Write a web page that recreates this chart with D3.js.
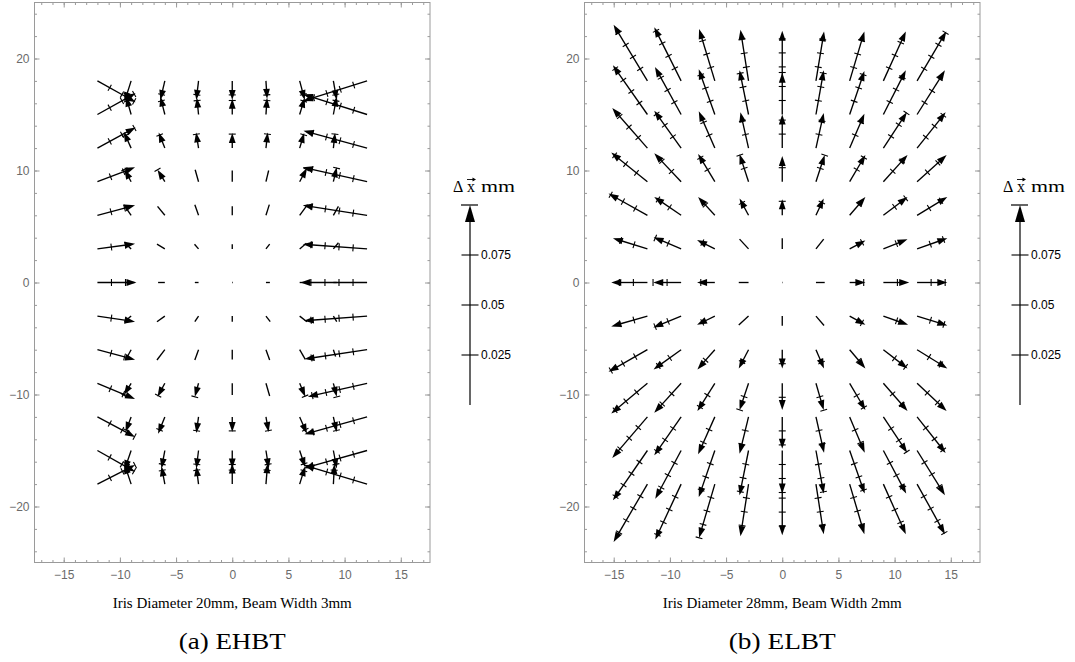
<!DOCTYPE html>
<html>
<head>
<meta charset="utf-8">
<script src="https://cdn.jsdelivr.net/npm/d3@7"></script>
<style>
  body { margin: 0; background: #fff; }
  svg { display: block; }
</style>
</head>
<body>
<svg id="chart" width="1075" height="662"></svg>
<script>
// Beam grid positions (mm)
const gridX = [-12, -9, -6, -3, 0, 3, 6, 9, 12];
const gridY = [18, 15, 12, 9, 6, 3, 0, -3, -6, -9, -12, -15, -18];

// EHBT displacement components, rows follow gridY, columns follow gridX
const ehbtDx = [
  [3.4, -0.6, -0.4, -0.2, 0, 0.1, 0.45, 0.3, -5.7],
  [3.4, -0.45, -0.4, -0.15, 0, 0.1, 0.45, 0.3, -5.7],
  [3.4, -0.65, -0.55, -0.22, 0, 0.15, 0.4, 0.15, -5.66],
  [3.35, -0.6, -0.65, -0.3, 0, 0.24, 0.65, 0.3, -5.72],
  [3.35, -0.65, -0.65, -0.33, 0, 0.3, 0.7, 0.45, -5.72],
  [3.35, -0.6, -0.7, -0.36, 0, 0.33, 0.6, 0.45, -5.72],
  [3.47, 0.3, -0.6, -0.33, 0.06, 0.35, 0.6, 0.3, -5.93],
  [3.35, -0.6, -0.7, -0.33, 0, 0.38, 0.65, 0.3, -5.63],
  [3.35, -0.5, -0.7, -0.33, 0, 0.33, 0.5, 0.2, -5.57],
  [3.35, -0.65, -0.65, -0.33, 0, 0.33, 0.5, 0.3, -5.27],
  [3.35, -0.5, -0.6, -0.2, 0, 0.24, 0.65, 0.3, -5.57],
  [3.35, -0.6, -0.3, -0.2, 0, 0.25, 0.5, 0.3, -5.63],
  [3.35, -0.6, -0.3, -0.2, 0, 0.15, 0.5, 0.1, -5.63]
];
const ehbtDy = [
  [-1.9, -1.9, -1.7, -1.7, -1.7, -1.6, -1.7, -1.7, -1.8],
  [1.9, 1.6, 1.6, 1.5, 1.4, 1.5, 1.5, 1.6, 1.8],
  [1.85, 1.45, 1.4, 1.4, 1.34, 1.4, 1.35, 1.35, 1.55],
  [1.28, 1.1, 1.07, 1.07, 1.0, 1.0, 1.22, 1.28, 1.28],
  [0.89, 0.95, 0.8, 0.95, 0.8, 0.95, 0.95, 0.8, 0.89],
  [0.45, 0.6, 0.42, 0.42, 0.42, 0.42, 0.5, 0.55, 0.42],
  [0, 0, 0, 0, 0, 0, 0, 0, 0],
  [-0.5, -0.5, -0.5, -0.5, -0.5, -0.5, -0.5, -0.5, -0.42],
  [-0.9, -0.92, -0.92, -0.92, -0.87, -0.92, -0.87, -0.6, -0.83],
  [-1.4, -1.04, -1.2, -1.2, -1.04, -1.13, -1.2, -1.2, -1.19],
  [-1.79, -1.34, -1.5, -1.43, -1.34, -1.34, -1.5, -1.34, -1.55],
  [-1.9, -1.75, -1.6, -1.6, -1.6, -1.6, -1.5, -1.6, -1.58],
  [1.7, 1.8, 1.6, 1.6, 1.85, 1.85, 1.6, 1.8, 1.7]
];

// ELBT displacement components
const elbtDx = [
  [-3.01, -2.39, -1.40, -0.72, 0, 0.72, 1.31, 2.0, 2.6],
  [-3.07, -2.33, -1.43, -0.8, 0, 0.69, 1.31, 2.0, 2.48],
  [-3.13, -2.39, -1.43, -0.72, 0, 0.69, 1.31, 2.09, 2.54],
  [-3.22, -2.39, -1.49, -0.8, 0, 0.78, 1.4, 2.15, 2.63],
  [-3.46, -2.39, -1.49, -0.8, 0, 0.69, 1.4, 2.15, 2.69],
  [-3.07, -2.45, -1.58, -0.8, 0, 0.69, 1.4, 2.15, 2.69],
  [-3.22, -2.48, -1.58, -0.87, 0.04, 0.78, 1.4, 2.3, 2.69],
  [-3.22, -2.48, -1.58, -0.87, 0, 0.72, 1.4, 2.2, 2.69],
  [-3.46, -2.45, -1.55, -0.87, 0, 0.72, 1.4, 2.15, 2.69],
  [-3.22, -2.39, -1.55, -0.8, 0, 0.69, 1.4, 2.15, 2.63],
  [-3.13, -2.39, -1.49, -0.8, 0, 0.72, 1.34, 2.12, 2.54],
  [-3.07, -2.3, -1.43, -0.8, 0, 0.69, 1.34, 2.03, 2.48],
  [-3.01, -2.3, -1.4, -0.72, 0, 0.69, 1.31, 2.0, 2.48]
];
const elbtDy = [
  [5.01, 4.78, 4.63, 4.57, 4.48, 4.42, 4.42, 4.42, 4.42],
  [4.39, 4.24, 4.03, 3.94, 3.73, 3.94, 3.88, 3.94, 3.94],
  [3.58, 3.34, 3.28, 3.19, 2.99, 3.13, 3.07, 3.19, 3.19],
  [2.6, 2.54, 2.48, 2.45, 2.3, 2.39, 2.39, 2.39, 2.39],
  [1.94, 1.64, 1.64, 1.49, 1.43, 1.49, 1.64, 1.64, 1.64],
  [0.96, 1.04, 0.8, 0.87, 0.96, 0.87, 0.75, 0.87, 0.96],
  [0, 0, 0, 0, 0, 0, 0, 0, 0],
  [-0.92, -1.01, -0.78, -0.8, -0.87, -0.84, -0.78, -0.78, -0.84],
  [-1.97, -1.76, -1.76, -1.67, -1.67, -1.67, -1.67, -1.67, -1.67],
  [-2.69, -2.63, -2.48, -2.39, -2.39, -2.39, -2.39, -2.48, -2.48],
  [-3.67, -3.43, -3.34, -3.28, -2.84, -3.19, -3.19, -3.19, -3.22],
  [-4.45, -4.3, -4.15, -4.0, -3.85, -3.85, -3.85, -3.85, -4.0],
  [-5.16, -4.95, -4.78, -4.65, -4.56, -4.47, -4.47, -4.47, -4.47]
];

// Axis ticks
const xMajorTicks = [-15, -10, -5, 0, 5, 10, 15];
const xMinorTicks = d3.range(-17, 18, 1);
const yMajorTicks = [-20, -10, 0, 10, 20];
const yMinorTicks = d3.range(-24, 25, 2);

// Displacement scale legend (mm)
const legendTicks = [0.025, 0.05, 0.075];
const legendMax = 0.1;

const panels = [
  { caption: "Iris Diameter 20mm, Beam Width 3mm", tag: "(a) EHBT", dx: ehbtDx, dy: ehbtDy, left: 34.5, legendX: 470 },
  { caption: "Iris Diameter 28mm, Beam Width 2mm", tag: "(b) ELBT", dx: elbtDx, dy: elbtDy, left: 584.5, legendX: 1020 }
];

const svg = d3.select("#chart");
const plotW = 395.5, plotTop = 2.5, plotBottom = 562.5;
const tickStep = 1.25;     // spacing of scale marks along an arrow (plot units)
const headMin = 1.2;       // arrows shorter than this are drawn without a head
const headLen = 10, headHalf = 3.4, markHalf = 3.5;
const frameColor = "#9a9a9a", labelColor = "#6a6a6a";
const serif = "'Liberation Serif', 'Times New Roman', serif";
const sans = "'Liberation Sans', Arial, sans-serif";

panels.forEach(p => {
  const x = d3.scaleLinear().domain([-17.6, 17.6]).range([p.left, p.left + plotW]);
  const y = d3.scaleLinear().domain([-25, 25]).range([plotBottom, plotTop]);
  const g = svg.append("g");

  // frame axes: minor + major ticks on all four sides, pointing inward
  const addAxis = (axis, transform, labelled) => {
    const a = g.append("g").attr("transform", transform).call(axis);
    a.select(".domain").remove();
    a.selectAll(".tick line").attr("stroke", frameColor);
    a.selectAll("text").attr("fill", labelColor)
      .style("font-family", sans).style("font-size", "12px");
    if (!labelled) a.selectAll("text").remove();
  };
  addAxis(d3.axisBottom(x).tickValues(xMinorTicks).tickSize(-2.5).tickFormat(""), `translate(0,${plotBottom})`, false);
  addAxis(d3.axisBottom(x).tickValues(xMajorTicks).tickSize(-5).tickPadding(8), `translate(0,${plotBottom})`, true);
  addAxis(d3.axisTop(x).tickValues(xMinorTicks).tickSize(-2.5).tickFormat(""), `translate(0,${plotTop})`, false);
  addAxis(d3.axisTop(x).tickValues(xMajorTicks).tickSize(-5).tickFormat(""), `translate(0,${plotTop})`, false);
  addAxis(d3.axisLeft(y).tickValues(yMinorTicks).tickSize(-2.5).tickFormat(""), `translate(${p.left},0)`, false);
  addAxis(d3.axisLeft(y).tickValues(yMajorTicks).tickSize(-5).tickPadding(5), `translate(${p.left},0)`, true);
  addAxis(d3.axisRight(y).tickValues(yMinorTicks).tickSize(-2.5).tickFormat(""), `translate(${p.left + plotW},0)`, false);
  addAxis(d3.axisRight(y).tickValues(yMajorTicks).tickSize(-5).tickFormat(""), `translate(${p.left + plotW},0)`, false);

  g.append("rect")
    .attr("x", p.left).attr("y", plotTop).attr("width", plotW).attr("height", plotBottom - plotTop)
    .attr("fill", "none").attr("stroke", frameColor).attr("stroke-width", 1);

  // vector field
  const field = g.append("g").attr("stroke", "#000").attr("fill", "#000");
  gridY.forEach((gy, i) => gridX.forEach((gx, j) => {
    const dx = p.dx[i][j], dy = p.dy[i][j];
    const len = Math.hypot(dx, dy);
    if (len === 0) return;
    const x0 = x(gx), y0 = y(gy), x1 = x(gx + dx), y1 = y(gy + dy);
    const pl = Math.hypot(x1 - x0, y1 - y0);
    const ux = (x1 - x0) / pl, uy = (y1 - y0) / pl;
    const nx = -uy, ny = ux;
    const hasHead = len >= headMin;
    const shaft = hasHead ? pl - headLen * 0.7 : pl;
    field.append("line")
      .attr("x1", x0).attr("y1", y0)
      .attr("x2", x0 + ux * shaft).attr("y2", y0 + uy * shaft)
      .attr("stroke-width", 1.35);
    for (let k = 1; k * tickStep <= len + 0.05; k++) {
      const t = k * tickStep / len;
      const px = x0 + (x1 - x0) * t, py = y0 + (y1 - y0) * t;
      field.append("line")
        .attr("x1", px - nx * markHalf).attr("y1", py - ny * markHalf)
        .attr("x2", px + nx * markHalf).attr("y2", py + ny * markHalf)
        .attr("stroke-width", 1.1);
    }
    if (hasHead) {
      const bx = x1 - ux * headLen, by = y1 - uy * headLen;
      field.append("path")
        .attr("d", `M${x1},${y1}L${bx + nx * headHalf},${by + ny * headHalf}L${bx - nx * headHalf},${by - ny * headHalf}Z`)
        .attr("stroke", "none");
    }
  }));

  // captions
  const cx = x(0);
  svg.append("text").attr("x", cx).attr("y", 608)
    .attr("text-anchor", "middle")
    .style("font-family", serif).style("font-size", "15px")
    .text(p.caption);
  svg.append("text").attr("x", cx).attr("y", 649)
    .attr("text-anchor", "middle")
    .attr("textLength", 107).attr("lengthAdjust", "spacingAndGlyphs")
    .style("font-family", serif).style("font-size", "23px")
    .text(p.tag);

  // legend: scale arrow
  const ly = d3.scaleLinear().domain([0, legendMax]).range([405, 205]);
  const lg = svg.append("g").attr("stroke", "#000").attr("fill", "#000");
  const lx = p.legendX;
  lg.append("line").attr("x1", lx).attr("x2", lx).attr("y1", ly(0)).attr("y2", ly(legendMax) + 12).attr("stroke-width", 1.2);
  lg.append("path").attr("stroke", "none")
    .attr("d", `M${lx},${ly(legendMax)}L${lx - 5},${ly(legendMax) + 17}L${lx + 5},${ly(legendMax) + 17}Z`);
  lg.append("line").attr("x1", lx - 9).attr("x2", lx + 8).attr("y1", ly(legendMax)).attr("y2", ly(legendMax)).attr("stroke-width", 1.2);
  legendTicks.forEach(v => {
    lg.append("line").attr("x1", lx - 8.5).attr("x2", lx + 8.5).attr("y1", ly(v)).attr("y2", ly(v)).attr("stroke-width", 1.1);
    lg.append("text").attr("x", lx + 11).attr("y", ly(v)).attr("dy", "0.35em")
      .attr("stroke", "none")
      .style("font-family", sans).style("font-size", "12px")
      .text(v);
  });

  // legend title: Δx (vector) in mm, with the vector arrow drawn over the x
  const title = svg.append("text").attr("y", 192)
    .style("font-family", serif).style("font-size", "16px");
  title.append("tspan").attr("x", lx - 17).text("\u0394");
  title.append("tspan").attr("x", lx - 3).text("x");
  title.append("tspan").attr("x", lx + 11).attr("textLength", 34).attr("lengthAdjust", "spacingAndGlyphs").text("mm");
  const vy = 179.5;
  svg.append("path")
    .attr("d", `M${lx - 3},${vy}H${lx + 4}`)
    .attr("stroke", "#000").attr("stroke-width", 0.9).attr("fill", "none");
  svg.append("path")
    .attr("d", `M${lx + 6},${vy}L${lx + 2.5},${vy - 2}L${lx + 2.5},${vy + 2}Z`)
    .attr("fill", "#000");
});
</script>
</body>
</html>
